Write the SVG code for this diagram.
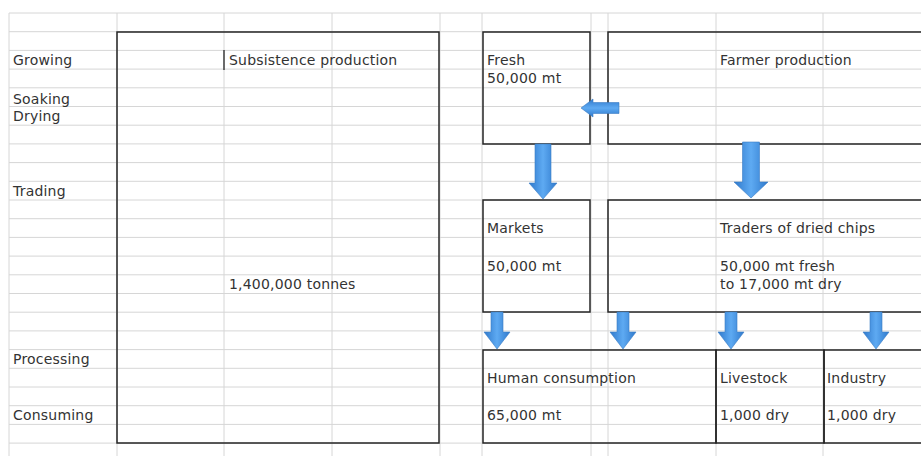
<svg xmlns="http://www.w3.org/2000/svg" width="921" height="456" viewBox="0 0 921 456">
<style>
.grid line{stroke:#d6d6d6;stroke-width:1}
.box{fill:none;stroke:#262626;stroke-width:1.5}
text{font-family:"DejaVu Sans","Liberation Sans",sans-serif;font-size:14px;letter-spacing:0.2px;fill:#333}
.arr{fill:url(#blueV);stroke:#3a7cc4;stroke-width:0.6}
.arrh{fill:url(#blueH);stroke:#3a7cc4;stroke-width:0.6}
</style>
<defs>
<linearGradient id="blueV" x1="0" y1="0" x2="1" y2="0">
<stop offset="0" stop-color="#2f79cc"/>
<stop offset="0.5" stop-color="#5eaaf2"/>
<stop offset="1" stop-color="#2f79cc"/>
</linearGradient>
<linearGradient id="blueH" x1="0" y1="0" x2="0" y2="1">
<stop offset="0" stop-color="#2f79cc"/>
<stop offset="0.5" stop-color="#5eaaf2"/>
<stop offset="1" stop-color="#2f79cc"/>
</linearGradient>
</defs>
<rect width="921" height="456" fill="#fff"/>
<g class="grid">
<line x1="9" y1="13" x2="921" y2="13"/>
<line x1="9" y1="31.7" x2="921" y2="31.7"/>
<line x1="9" y1="50.4" x2="921" y2="50.4"/>
<line x1="9" y1="69.1" x2="921" y2="69.1"/>
<line x1="9" y1="87.8" x2="921" y2="87.8"/>
<line x1="9" y1="106.5" x2="921" y2="106.5"/>
<line x1="9" y1="125.2" x2="921" y2="125.2"/>
<line x1="9" y1="143.9" x2="921" y2="143.9"/>
<line x1="9" y1="162.6" x2="921" y2="162.6"/>
<line x1="9" y1="181.3" x2="921" y2="181.3"/>
<line x1="9" y1="200" x2="921" y2="200"/>
<line x1="9" y1="218.7" x2="921" y2="218.7"/>
<line x1="9" y1="237.4" x2="921" y2="237.4"/>
<line x1="9" y1="256.1" x2="921" y2="256.1"/>
<line x1="9" y1="274.8" x2="921" y2="274.8"/>
<line x1="9" y1="293.5" x2="921" y2="293.5"/>
<line x1="9" y1="312.2" x2="921" y2="312.2"/>
<line x1="9" y1="330.9" x2="921" y2="330.9"/>
<line x1="9" y1="349.6" x2="921" y2="349.6"/>
<line x1="9" y1="368.3" x2="921" y2="368.3"/>
<line x1="9" y1="387" x2="921" y2="387"/>
<line x1="9" y1="405.7" x2="921" y2="405.7"/>
<line x1="9" y1="424.4" x2="921" y2="424.4"/>
<line x1="9" y1="443.1" x2="921" y2="443.1"/>
<line x1="9" y1="13" x2="9" y2="456"/>
<line x1="117" y1="13" x2="117" y2="456"/>
<line x1="224" y1="13" x2="224" y2="456"/>
<line x1="332" y1="13" x2="332" y2="456"/>
<line x1="440" y1="13" x2="440" y2="456"/>
<line x1="482" y1="13" x2="482" y2="456"/>
<line x1="591" y1="13" x2="591" y2="456"/>
<line x1="608" y1="13" x2="608" y2="456"/>
<line x1="716" y1="13" x2="716" y2="456"/>
<line x1="823" y1="13" x2="823" y2="456"/>
</g>
<g id="stages">
<text x="13" y="65">Growing</text>
<text x="13" y="104">Soaking</text>
<text x="13" y="121">Drying</text>
<text x="13" y="196">Trading</text>
<text x="13" y="364">Processing</text>
<text x="13" y="420">Consuming</text>
</g>
<g id="subsistence">
<rect class="box" x="117" y="32" width="322" height="411"/>
<line x1="224" y1="50" x2="224" y2="70" stroke="#262626" stroke-width="1.3"/>
<text x="229" y="65">Subsistence production</text>
<text x="229" y="289">1,400,000 tonnes</text>
</g>
<g id="fresh">
<rect class="box" x="483" y="32" width="107" height="112"/>
<text x="487" y="65">Fresh</text>
<text x="487" y="83">50,000 mt</text>
</g>
<g id="farmer">
<rect class="box" x="608" y="32" width="320" height="112"/>
<text x="720" y="65">Farmer production</text>
</g>
<g id="markets">
<rect class="box" x="483" y="200" width="107" height="112"/>
<text x="487" y="233">Markets</text>
<text x="487" y="271">50,000 mt</text>
</g>
<g id="traders">
<rect class="box" x="608" y="200" width="320" height="112"/>
<text x="720" y="233">Traders of dried chips</text>
<text x="720" y="271">50,000 mt fresh</text>
<text x="720" y="289">to 17,000 mt dry</text>
</g>
<g id="human">
<rect class="box" x="483" y="350" width="233" height="93"/>
<text x="487" y="383">Human consumption</text>
<text x="487" y="420">65,000 mt</text>
</g>
<g id="livestock">
<rect class="box" x="716" y="350" width="108" height="93"/>
<text x="720" y="383">Livestock</text>
<text x="720" y="420">1,000 dry</text>
</g>
<g id="industry">
<rect class="box" x="824" y="350" width="104" height="93"/>
<text x="827" y="383">Industry</text>
<text x="827" y="420">1,000 dry</text>
</g>
<g id="connectors">
<path class="arrh" d="M619,102.5 V113.5 H593 V117 L581,108 L593,99 V102.5 Z"/>
<path class="arr" d="M535,144 H551 V183 H557 L543,199 L529,183 H535 Z"/>
<path class="arr" d="M742.5,142 H759.5 V182 H768 L751,198 L734,182 H742.5 Z"/>
<path class="arr" d="M491,312 H503 V332 H510 L497,349 L484,332 H491 Z"/>
<path class="arr" d="M617,312 H629 V332 H636 L623,349 L610,332 H617 Z"/>
<path class="arr" d="M725,312 H737 V332 H744 L731,349 L718,332 H725 Z"/>
<path class="arr" d="M870,312 H882 V332 H889 L876,349 L863,332 H870 Z"/>
</g>
</svg>
